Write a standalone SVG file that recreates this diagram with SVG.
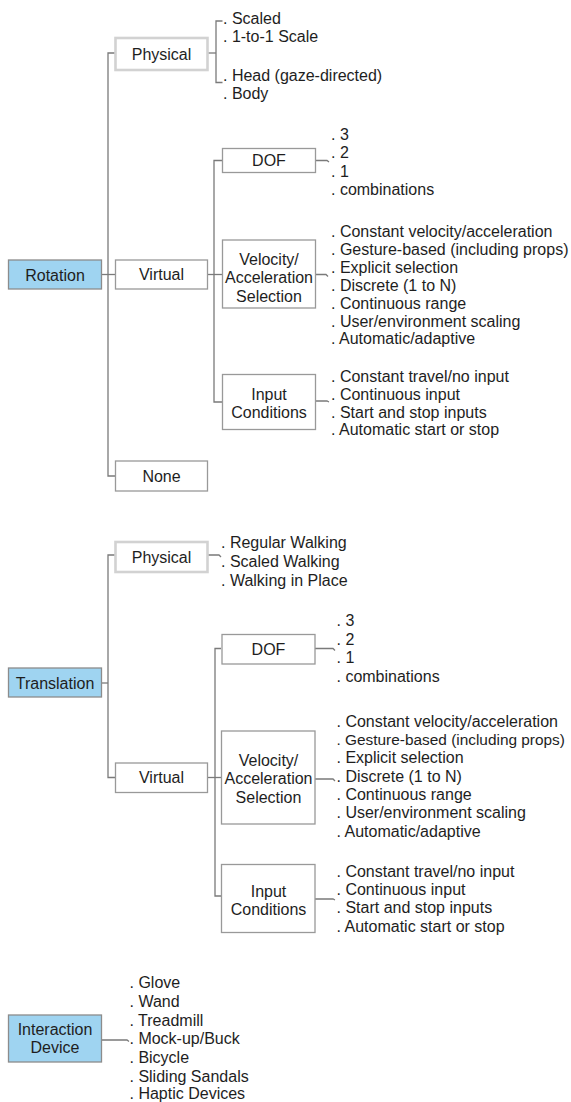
<svg xmlns="http://www.w3.org/2000/svg" width="571" height="1102" viewBox="0 0 571 1102">
<style>
text{font-family:"Liberation Sans",Arial,Helvetica,sans-serif;font-size:16px;fill:#1e1e1e}
.c{text-anchor:middle}
.box{fill:#fff;stroke:#999;stroke-width:1.3}
.light{fill:#fff;stroke:#d2d2d2;stroke-width:2.6}
.blue{fill:#9fd4f1;stroke:#8c8c8c;stroke-width:1.3}
.e{fill:none;stroke:#7a7a7a;stroke-width:1.3}
</style>
<rect width="571" height="1102" fill="#fff"/>
<g id="connectors">
<path class="e" d="M101.5 274.5 H115"/>
<path class="e" d="M115 53 H108 V476 H115"/>
<path class="e" d="M207.5 53 H216"/>
<path class="e" d="M222.5 21 H216 V82.5 H222.5"/>
<path class="e" d="M207 274.5 H222"/>
<path class="e" d="M222 160.5 H214 V402 H222"/>
<path class="e" d="M315 160.5 H327 L329 162"/>
<path class="e" d="M315 274.5 H326 L328 276.5"/>
<path class="e" d="M315 401 H327 L329 402"/>
<path class="e" d="M101.5 683 H108"/>
<path class="e" d="M115 555 H108 V777.5 H115"/>
<path class="e" d="M207.5 555 H219 L221 557"/>
<path class="e" d="M207 777.5 H221"/>
<path class="e" d="M221 648.5 H215 V896 H221"/>
<path class="e" d="M315 648.5 H333 L335 650.5"/>
<path class="e" d="M315 779 H333 L335 781"/>
<path class="e" d="M315 899 H333 L335 900"/>
<path class="e" d="M101.5 1040 H127 L129 1041.5"/>
</g>
<g id="rotation"><rect class="blue" x="8.5" y="260" width="93" height="29"/><text class="c" x="55" y="281">Rotation</text></g>
<g id="rot-physical"><rect class="light" x="115.5" y="38" width="92" height="32"/><text class="c" x="161.5" y="59.5">Physical</text></g>
<g id="rot-physical-list1"><text x="223" y="24">. Scaled</text><text x="223" y="42.3">. 1-to-1 Scale</text></g>
<g id="rot-physical-list2"><text x="223" y="81">. Head (gaze-directed)</text><text x="223" y="99.3">. Body</text></g>
<g id="rot-virtual"><rect class="box" x="115.5" y="260" width="92" height="29"/><text class="c" x="161.5" y="280">Virtual</text></g>
<g id="rot-none"><rect class="box" x="115.5" y="461" width="92" height="30"/><text class="c" x="161.5" y="481.5">None</text></g>
<g id="rot-dof"><rect class="box" x="222.5" y="148.5" width="93" height="24"/><text class="c" x="269" y="166">DOF</text></g>
<g id="rot-dof-list"><text x="331" y="140">. 3</text><text x="331" y="158.4">. 2</text><text x="331" y="176.7">. 1</text><text x="331" y="195.1">. combinations</text></g>
<g id="rot-velocity"><rect class="box" x="222.5" y="240" width="93" height="68"/><text class="c" x="269" y="265">Velocity/</text><text class="c" x="269" y="283.3">Acceleration</text><text class="c" x="269" y="301.5">Selection</text></g>
<g id="rot-velocity-list"><text x="331" y="236.5">. Constant velocity/acceleration</text><text x="331" y="254.5">. Gesture-based (including props)</text><text x="331" y="272.5">. Explicit selection</text><text x="331" y="290.5">. Discrete (1 to N)</text><text x="331" y="308.5">. Continuous range</text><text x="331" y="326.5">. User/environment scaling</text><text x="331" y="344">. Automatic/adaptive</text></g>
<g id="rot-input"><rect class="box" x="222.5" y="374.5" width="93" height="55"/><text class="c" x="269" y="400">Input</text><text class="c" x="269" y="418.3">Conditions</text></g>
<g id="rot-input-list"><text x="331" y="381.7">. Constant travel/no input</text><text x="331" y="399.5">. Continuous input</text><text x="331" y="417.5">. Start and stop inputs</text><text x="331" y="435.3">. Automatic start or stop</text></g>
<g id="translation"><rect class="blue" x="8.5" y="668" width="93" height="29"/><text class="c" x="55" y="688.5">Translation</text></g>
<g id="tr-physical"><rect class="light" x="115.5" y="542" width="92" height="30"/><text class="c" x="161.5" y="562.5">Physical</text></g>
<g id="tr-physical-list"><text x="221" y="548.3">. Regular Walking</text><text x="221" y="567">. Scaled Walking</text><text x="221" y="585.5">. Walking in Place</text></g>
<g id="tr-virtual"><rect class="box" x="115.5" y="763" width="92" height="29.5"/><text class="c" x="161.5" y="783">Virtual</text></g>
<g id="tr-dof"><rect class="box" x="222" y="634.5" width="93" height="29.5"/><text class="c" x="268.5" y="654.5">DOF</text></g>
<g id="tr-dof-list"><text x="336.5" y="626">. 3</text><text x="336.5" y="645">. 2</text><text x="336.5" y="663.3">. 1</text><text x="336.5" y="681.7">. combinations</text></g>
<g id="tr-velocity"><rect class="box" x="221.5" y="731" width="93.5" height="93"/><text class="c" x="268.5" y="766">Velocity/</text><text class="c" x="268.5" y="784.3">Acceleration</text><text class="c" x="268.5" y="802.6">Selection</text></g>
<g id="tr-velocity-list"><text x="336.5" y="726.7">. Constant velocity/acceleration</text><text x="336.5" y="745" style="font-size:15.4px">. Gesture-based (including props)</text><text x="336.5" y="763.3">. Explicit selection</text><text x="336.5" y="781.7">. Discrete (1 to N)</text><text x="336.5" y="800">. Continuous range</text><text x="336.5" y="818.3">. User/environment scaling</text><text x="336.5" y="836.7">. Automatic/adaptive</text></g>
<g id="tr-input"><rect class="box" x="221.5" y="864.5" width="93.5" height="68"/><text class="c" x="268.5" y="896.7">Input</text><text class="c" x="268.5" y="915">Conditions</text></g>
<g id="tr-input-list"><text x="336.5" y="876.7">. Constant travel/no input</text><text x="336.5" y="895">. Continuous input</text><text x="336.5" y="913.3">. Start and stop inputs</text><text x="336.5" y="931.7">. Automatic start or stop</text></g>
<g id="interaction-device"><rect class="blue" x="8.5" y="1015" width="93" height="47"/><text class="c" x="55" y="1035">Interaction</text><text class="c" x="55" y="1053.4">Device</text></g>
<g id="device-list"><text x="129.5" y="988.3">. Glove</text><text x="129.5" y="1006.7">. Wand</text><text x="129.5" y="1025.6">. Treadmill</text><text x="129.5" y="1044.2">. Mock-up/Buck</text><text x="129.5" y="1062.7">. Bicycle</text><text x="129.5" y="1081.5">. Sliding Sandals</text><text x="129.5" y="1099">. Haptic Devices</text></g>
</svg>
